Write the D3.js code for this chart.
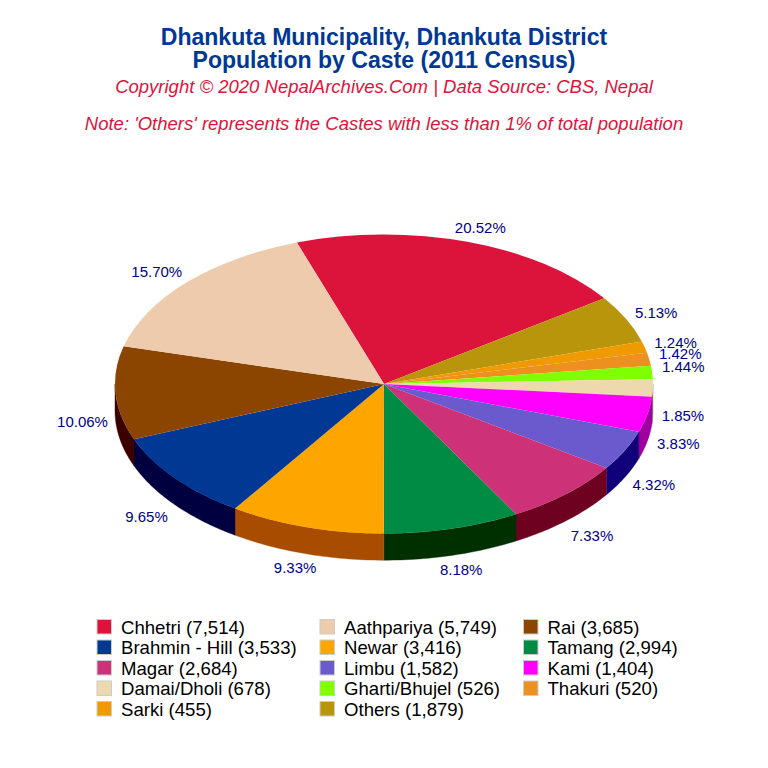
<!DOCTYPE html>
<html><head><meta charset="utf-8">
<script src="https://cdn.jsdelivr.net/npm/d3@7"></script>
<style>html,body{margin:0;padding:0;background:#fff}svg{display:block}text{font-family:"Liberation Sans",Arial,sans-serif}</style>
</head><body><div id="c"></div>
<script>
const titleLines = ["Dhankuta Municipality, Dhankuta District","Population by Caste (2011 Census)"];
const subtitle = "Copyright © 2020 NepalArchives.Com | Data Source: CBS, Nepal";
const note = "Note: 'Others' represents the Castes with less than 1% of total population";
const categories = ["Chhetri","Aathpariya","Rai","Brahmin - Hill","Newar","Tamang","Magar","Limbu","Kami","Damai/Dholi","Gharti/Bhujel","Thakuri","Sarki","Others"];
const population = [7514,5749,3685,3533,3416,2994,2684,1582,1404,678,526,520,455,1879];
const topColors = ["#DC143C","#EDCBAC","#8B4500","#003893","#FFA500","#008B45","#CD3278","#6A5ACD","#FF00FF","#EED8AE","#7FFF00","#EE9020","#EE9A00","#B8950B"];
const wallColors = ["#6E0A1E","#766556","#3B0000","#000040","#A84D00","#003000","#6E0020","#10007A","#A000A0","#8A7D65","#408000","#774810","#774D00","#5C4B05"];
const pieOrder = ["Chhetri","Others","Sarki","Thakuri","Gharti/Bhujel","Damai/Dholi","Kami","Limbu","Magar","Tamang","Newar","Brahmin - Hill","Rai","Aathpariya"];
const labelPct = ["20.52%","5.13%","1.24%","1.42%","1.44%","1.85%","3.83%","4.32%","7.33%","8.18%","9.33%","9.65%","10.06%","15.70%"];
const labelDx = [13,30,31,31,31,30,31,29,26,9,-11,-28.5,-33,-30];
const labelDy = [-14,-6,-5,-6,-6,28,29,34,41,41,40,38,28,-11];

const W=768,H=768,cx=384,cy=384,rx=269,ry=149.5,depth=26.7;
const svg=d3.select("#c").append("svg").attr("width",W).attr("height",H);
const start=-18.9*Math.PI/180;
const rows=pieOrder.map((n,i)=>({name:n,i:categories.indexOf(n),pct:labelPct[i],dx:labelDx[i],dy:labelDy[i]}));
rows.forEach(r=>r.value=population[r.i]);
const pie=d3.pie().sort(null).value(d=>d.value).startAngle(start).endAngle(start+2*Math.PI);
const arcs=pie(rows);
const px=d3.scaleLinear().domain([-1,1]).range([cx-rx,cx+rx]);
const py=d3.scaleLinear().domain([-1,1]).range([cy-ry,cy+ry]);
const pt=(a,r=1,dz=0)=>[px(r*Math.sin(a)),py(-r*Math.cos(a))+dz];

// walls
const line=d3.line();
const wallG=svg.append("g");
arcs.forEach(d=>{
  const a0=Math.max(d.startAngle,Math.PI/2), a1=Math.min(d.endAngle,1.5*Math.PI);
  if(a1<=a0) return;
  const n=Math.max(2,Math.ceil((a1-a0)*60));
  const as=d3.range(n+1).map(k=>a0+(a1-a0)*k/n);
  const poly=as.map(a=>pt(a)).concat(as.slice().reverse().map(a=>pt(a,1,depth)));
  wallG.append("path").attr("d",line(poly)+"Z").attr("fill",wallColors[d.data.i]).attr("stroke",wallColors[d.data.i]).attr("stroke-width",0.4);
});
// tops
const arcGen=d3.arc().innerRadius(0).outerRadius(ry);
svg.append("g").attr("transform",`translate(${cx},${cy}) scale(${rx/ry},1)`)
 .selectAll("path").data(arcs).join("path")
 .attr("d",arcGen).attr("fill",d=>topColors[d.data.i]);
// percentage labels
svg.append("g").selectAll("text").data(arcs).join("text")
 .attr("x",d=>pt((d.startAngle+d.endAngle)/2)[0]+d.data.dx)
 .attr("y",d=>pt((d.startAngle+d.endAngle)/2)[1]+d.data.dy)
 .attr("text-anchor","middle").attr("dominant-baseline","central")
 .attr("font-size",15).attr("fill","#00008B").text(d=>d.data.pct);
// titles
svg.append("g").selectAll("text").data(titleLines).join("text")
 .attr("x",384).attr("y",(d,i)=>44.5+i*23.5).attr("text-anchor","middle")
 .attr("font-size",23.05).attr("font-weight","bold").attr("fill","#003893").text(d=>d);
svg.append("text").attr("x",384).attr("y",93).attr("text-anchor","middle").attr("font-size",18.5).attr("font-style","italic").attr("fill","#DC143C").text(subtitle);
svg.append("text").attr("x",384).attr("y",130).attr("text-anchor","middle").attr("font-size",18.5).attr("font-style","italic").attr("fill","#DC143C").text(note);
// legend
const fmt=d3.format(",");
const colX=d3.scaleOrdinal().domain([0,1,2]).range([97,320,523.5]);
const rowY=d3.scaleLinear().domain([0,4]).range([627,709]);
const lg=svg.append("g").selectAll("g").data(categories).join("g")
 .attr("transform",(d,i)=>`translate(${colX(i%3)},${rowY(Math.floor(i/3))})`);
lg.append("rect").attr("x",0).attr("y",-7.5).attr("width",14.5).attr("height",14.5).attr("fill",(d,i)=>topColors[i]).attr("stroke","#ccc").attr("stroke-width",1);
lg.append("text").attr("x",24).attr("y",0).attr("dominant-baseline","central").attr("font-size",18.6).attr("fill","#000").text((d,i)=>`${d} (${fmt(population[i])})`);
</script></body></html>
